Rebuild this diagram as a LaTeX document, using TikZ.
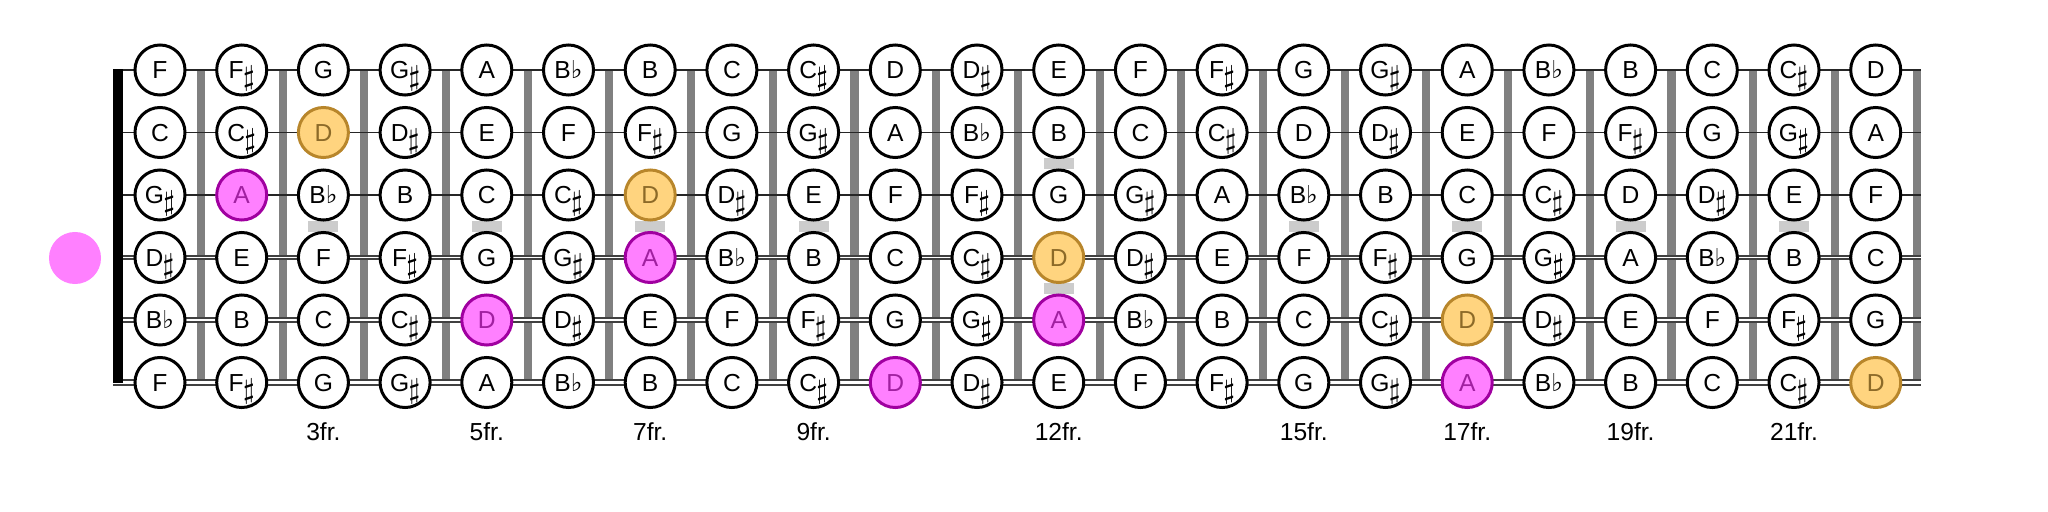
\documentclass[tikz,border=0pt]{standalone}
\usepackage{fontspec}
\setmainfont{Liberation Sans}
\newfontfamily\symb{DejaVu Sans}
\definecolor{rosefond}{HTML}{FF80FF}
\definecolor{rosebord}{HTML}{A000A0}
\definecolor{rosetexte}{HTML}{A020A0}
\definecolor{ocrefond}{HTML}{FFD47F}
\definecolor{ocrebord}{HTML}{B8862B}
\definecolor{ocretexte}{HTML}{8C6A28}
\newcommand{\diese}{\kern-0.2pt\smash{\raisebox{-0.55ex}{\fontsize{7.8}{8}\selectfont$\sharp$}}}
\newcommand{\bemol}{{\symb ♭}}
\newcommand{\nomnote}[1]{\ifcase#1 C\or C\diese\or D\or D\diese\or E\or F\or F\diese\or G\or G\diese\or A\or B\bemol\or B\fi}
\begin{document}
\begin{tikzpicture}[x=0.01cm, y=-0.01cm,
    note/.style={circle, draw=black, line width=0.85pt, fill=white, minimum size=0.5cm, inner sep=0pt, text depth=0pt, text height=5pt, font=\fontsize{7}{7}\selectfont},
    rose/.style={fill=rosefond, draw=rosebord, text=rosetexte},
    ocre/.style={fill=ocrefond, draw=ocrebord, text=ocretexte},
    frette/.style={line width=2.3pt, black!50},
    repere/.style={fill=black!20, draw=none, minimum width=0.3cm, minimum height=0.11cm, inner sep=0pt},
    corde/.style={line width=0.45pt, black!85},
    label/.style={font=\fontsize{7}{7}\selectfont},
    % notes en couleur
    n-3-2/.style=rose, n-4-7/.style=rose, n-5-5/.style=rose,
    n-6-10/.style=rose, n-5-12/.style=rose, n-6-17/.style=rose,
    n-2-3/.style=ocre, n-3-7/.style=ocre, n-4-12/.style=ocre,
    n-5-17/.style=ocre, n-6-22/.style=ocre
]
    \useasboundingbox (0,0) rectangle (2048,512);

    % Reperes
    \foreach \f in {3,5,7,9,15,17,19,21}
        \node[repere] (rep\f) at ({160+(\f-1)*81.7},226.25) {};
    \node[repere] (rep12a) at ({160+11*81.7},163.75) {};
    \node[repere] (rep12b) at ({160+11*81.7},288.75) {};

    % Frettes
    \foreach \k in {1,...,22}
        \draw[frette] ({160+(\k-0.5)*81.7},70) -- ({160+(\k-0.5)*81.7},382.5);

    % Cordes
    \foreach \s in {1,2,3} {
        \coordinate (g\s) at (113,{70+(\s-1)*62.5});
        \coordinate (d\s) at (1921,{70+(\s-1)*62.5});
        \draw[corde] (g\s) -- (d\s);
    }
    \foreach \s/\a/\b in {4/1.3/0.55,5/1.6/0.7,6/1.9/0.85} {
        \coordinate (g\s) at (113,{70+(\s-1)*62.5});
        \coordinate (d\s) at (1921,{70+(\s-1)*62.5});
        \draw[line width=\a pt, black!75] (g\s) -- (d\s);
        \draw[line width=\b pt, white] (g\s) -- (d\s);
    }

    % Sillet
    \fill (113,69) rectangle (123,383);

    % Notes
    \foreach \s/\o in {1/4,2/11,3/7,4/2,5/9,6/4}
        \foreach \f in {1,...,22} {
            \pgfmathtruncatemacro\k{mod(\o+\f,12)}
            \node[note, n-\s-\f/.try] (n\s-\f) at ({160+(\f-1)*81.7},{70+(\s-1)*62.5}) {\nomnote{\k}};
        }

    % Cases
    \foreach \f in {3,5,7,9,12,15,17,19,21}
        \node[label] (lab\f) at ({160+(\f-1)*81.7},432) {\f fr.};

    % Tonique
    \node[circle, fill=rosefond, minimum size=0.52cm, inner sep=0pt] (tonique) at (75,258) {};
\end{tikzpicture}
\end{document}
